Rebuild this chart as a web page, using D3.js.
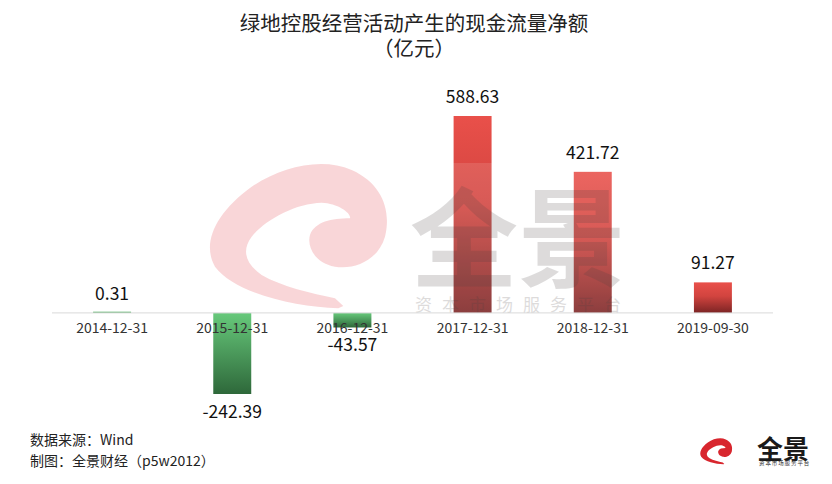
<!DOCTYPE html>
<html><head><meta charset="utf-8">
<script src="https://cdn.jsdelivr.net/npm/d3@7"></script>
<style>
html,body{margin:0;padding:0;background:#fff;}
text{font-family:"Noto Sans CJK SC","Noto Sans",sans-serif;}
</style></head>
<body><svg id="c" width="832" height="484"></svg>
<script>
const categories = ["2014-12-31","2015-12-31","2016-12-31","2017-12-31","2018-12-31","2019-09-30"];
const values = [0.31, -242.39, -43.57, 588.63, 421.72, 91.27];
const labels = ["0.31","-242.39","-43.57","588.63","421.72","91.27"];
const colorGroup = ["green","green","green","red","red","red"];
const titleLines = ["绿地控股经营活动产生的现金流量净额","（亿元）"];
const footnotes = ["数据来源：Wind","制图：全景财经（p5w2012）"];

const svg = d3.select("#c");
const W = 832, H = 484;
svg.append("rect").attr("width",W).attr("height",H).attr("fill","#fff");

const defs = svg.append("defs");
const gr = defs.append("linearGradient").attr("id","gRed").attr("x1",0).attr("y1",0).attr("x2",0).attr("y2",1);
gr.append("stop").attr("offset","0%").attr("stop-color","#e9504a");
gr.append("stop").attr("offset","45%").attr("stop-color","#d2443f");
gr.append("stop").attr("offset","100%").attr("stop-color","#7c2424");
const gg = defs.append("linearGradient").attr("id","gGreen").attr("x1",0).attr("y1",0).attr("x2",0).attr("y2",1);
gg.append("stop").attr("offset","0%").attr("stop-color","#67c97b");
gg.append("stop").attr("offset","100%").attr("stop-color","#2e683a");
const fillFor = {red:"url(#gRed)", green:"url(#gGreen)"};

const x = d3.scaleBand().domain(categories).range([52,773]).paddingInner(0.684).paddingOuter(0.342);
const ext = d3.extent(values);
const y = d3.scaleLinear().domain(ext).range([394,116]);

// bars
svg.append("g").selectAll("rect").data(values).join("rect")
  .attr("x",(d,i)=>x(categories[i]))
  .attr("width",x.bandwidth())
  .attr("y",d=>d>=0?Math.min(y(d),y(0)-1.2):y(0))
  .attr("height",d=>Math.max(1.2,Math.abs(y(d)-y(0))))
  .attr("fill",(d,i)=>colorGroup[i]==="green" && Math.abs(y(d)-y(0))<3 ? "#4fae5f" : fillFor[colorGroup[i]]);

// watermark
const swirl = "M430 475 C300 470,120 430,60 350 C20 280,60 190,170 110 C260 50,380 20,470 60 C560 100,590 180,570 260 C550 330,480 360,420 350 C360 340,335 290,345 255 C360 215,410 205,465 205 C470 190,430 160,380 158 C300 160,210 210,170 260 C140 300,150 340,200 375 C260 410,350 430,420 445 L445 468 Z";
const wm = svg.append("g");
wm.append("rect").attr("x",200).attr("y",163).attr("width",428).attr("height",150).attr("fill","#fff").attr("opacity",0.12);
wm.append("path").attr("d",swirl).attr("transform","translate(195,150) scale(0.3333)")
  .attr("fill","#e0303a").attr("opacity",0.2);
wm.append("text").attr("x",518).attr("y",232).attr("text-anchor","middle").attr("dominant-baseline","central")
  .attr("font-size",108).attr("font-weight","bold").attr("fill","#464040").attr("opacity",0.18).text("全景");
wm.append("text").attr("x",415).attr("y",311).attr("font-size",17).attr("letter-spacing",10)
  .attr("fill","#464040").attr("opacity",0.18).text("资本市场服务平台");

// axis line
svg.append("line").attr("x1",52).attr("x2",773).attr("y1",y(0)).attr("y2",y(0))
  .attr("stroke","#d9d9d9").attr("stroke-width",1);

// axis labels
const ax = svg.append("g").attr("transform",`translate(0,${y(0)})`)
  .call(d3.axisBottom(x).tickSize(0).tickPadding(10));
ax.select(".domain").remove();
ax.selectAll("text").attr("font-size",14).attr("fill","#333")
  .attr("font-family",'"Noto Sans CJK SC","Noto Sans",sans-serif');

// value labels
svg.append("g").selectAll("text").data(values).join("text")
  .attr("x",(d,i)=>x(categories[i])+x.bandwidth()/2)
  .attr("y",d=>d>=0?y(d)-13:y(d)+24)
  .attr("text-anchor","middle").attr("font-size",17.5).attr("fill","#111")
  .text((d,i)=>labels[i]);

// title
svg.append("g").selectAll("text").data(titleLines).join("text")
  .attr("x",414).attr("y",(d,i)=>31+i*25).attr("text-anchor","middle")
  .attr("font-size",20.5).attr("fill","#222").text(d=>d);

// footnotes
svg.append("g").selectAll("text").data(footnotes).join("text")
  .attr("x",30).attr("y",(d,i)=>445+i*21).attr("font-size",14).attr("fill","#222").text(d=>d);

// logo
const lg = svg.append("g");
lg.append("path").attr("d",swirl).attr("transform","translate(697.6,435.8) scale(0.06)").attr("fill","#d8262e");
lg.append("text").attr("x",757).attr("y",447).attr("dominant-baseline","central").attr("font-size",26)
  .attr("font-weight","bold").attr("fill","#1a1a1a").text("全景");
lg.append("text").attr("x",759).attr("y",465).attr("font-size",5.5).attr("letter-spacing",0.9)
  .attr("fill","#333").text("资本市场服务平台");
</script></body></html>
